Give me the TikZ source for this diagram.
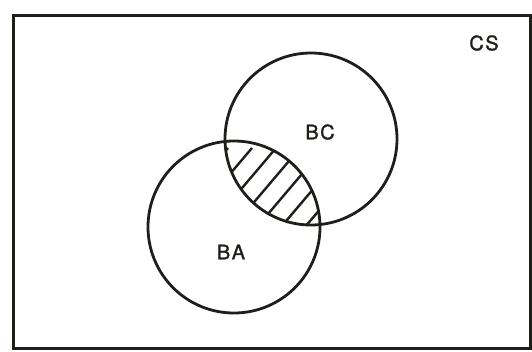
\documentclass[tikz,border=0pt]{standalone}
\usepackage{fontspec}
\setmainfont{TeX Gyre Heros}
\newfontfamily\setfont{TeX Gyre Heros}[FakeBold=1.3]
\usepackage{tikz}
\usetikzlibrary{positioning}

\begin{document}
\begin{tikzpicture}[x=1pt, y=-1pt]
  \definecolor{inkblack}{HTML}{1E1E1A}
  \tikzset{venn/.style={circle, draw=inkblack, line width=2.8pt, minimum size=172pt, inner sep=0pt},
           setlabel/.style={text=inkblack, font=\setfont\fontsize{20}{24}\selectfont}}

  \useasboundingbox (0,0) rectangle (532,351);

  \draw[line width=3pt, draw=inkblack] (13,15) rectangle (530,348);

  % hatched overlap
  \begin{scope}
    \clip (311,139) circle (85);
    \clip (234,227) circle (86);
    \foreach \k in {-6,...,6}
      \draw[line width=2.4pt, draw=inkblack] (205+\k*24,260) -- ++(95,-112);
  \end{scope}

  \node[venn] (BCset) at (311,139) {};
  \node[venn] (BAset) at (234,227) {};

  \node[setlabel] (BClabel) at (320,132) {B\kern1.5pt C};
  \node[setlabel] (BAlabel) at (231,252) {B\kern1.5pt A};
  \node[setlabel] (CSlabel) at (484,43) {C\kern1.5pt S};
\end{tikzpicture}
\end{document}
